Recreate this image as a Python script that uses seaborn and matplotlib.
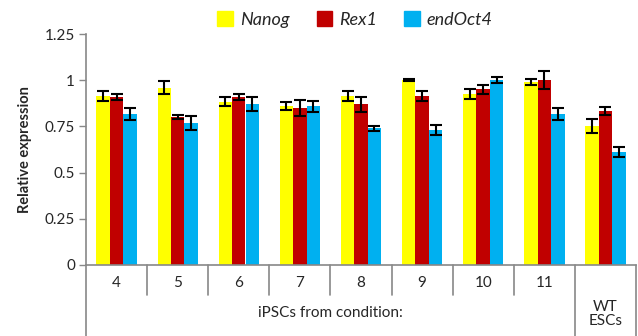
import numpy as np
import pandas as pd
import matplotlib
matplotlib.use("Agg")
import matplotlib.pyplot as plt
import matplotlib.transforms as mtransforms
import seaborn as sns

conditions = ["4", "5", "6", "7", "8", "9", "10", "11", "WT ESCs"]
genes = ["Nanog", "Rex1", "endOct4"]

nanog = [0.915, 0.96, 0.884, 0.862, 0.915, 1.0, 0.925, 0.99, 0.752]
rex1 = [0.91, 0.80, 0.91, 0.848, 0.87, 0.915, 0.95, 1.0, 0.833]
endoct4 = [0.815, 0.77, 0.87, 0.858, 0.74, 0.73, 1.0, 0.815, 0.613]

nanog_err = [0.028, 0.036, 0.025, 0.021, 0.028, 0.004, 0.028, 0.018, 0.039]
rex1_err = [0.015, 0.011, 0.015, 0.044, 0.041, 0.029, 0.022, 0.05, 0.02]
endoct4_err = [0.033, 0.037, 0.039, 0.032, 0.014, 0.026, 0.015, 0.032, 0.027]

colors = ["#FFFF00", "#C00000", "#00B0F0"]

df = pd.DataFrame({
    "cond": conditions * 3,
    "gene": [g for g in genes for _ in conditions],
    "val": nanog + rex1 + endoct4,
})
errs = [nanog_err, rex1_err, endoct4_err]

sns.set_style("white")
plt.rcParams["font.family"] = ["Lato", "DejaVu Sans"]

W, H = 638, 336
fig = plt.figure(figsize=(W / 100, H / 100), dpi=100)
ax = fig.add_axes([86 / W, (H - 265) / H, (636 - 86) / W, (265 - 34) / H])

sns.barplot(data=df, x="cond", y="val", hue="gene", palette=colors,
            width=0.66, saturation=1, ax=ax, legend=False,
            edgecolor="none", linewidth=0)

# error bars on top of each bar
for cont, e in zip(ax.containers, errs):
    xs = [b.get_x() + b.get_width() / 2 for b in cont]
    hs = [b.get_height() for b in cont]
    ax.errorbar(xs, hs, yerr=e, fmt="none", ecolor="black",
                elinewidth=1.5, capsize=4.5, capthick=1.5, zorder=5)

ax.set_ylim(0, 1.25)
ax.set_xlim(-0.5, 8.5)
ax.set_yticks([0, 0.25, 0.5, 0.75, 1, 1.25])
ax.set_yticklabels(["0", "0.25", "0.5", "0.75", "1", "1.25"], fontsize=11)
ax.tick_params(axis="y", length=5, width=1, color="#888888", direction="out", left=True, pad=3)
ax.set_ylabel("Relative expression", fontsize=10.5, fontweight="bold", labelpad=9)
ax.set_xlabel("")

for s in ["top", "right"]:
    ax.spines[s].set_visible(False)
for s in ["left", "bottom"]:
    ax.spines[s].set_color("#888888")
    ax.spines[s].set_linewidth(1.2)

# category labels of the multi-level axis
ax.set_xticks(range(8))
ax.set_xticklabels(conditions[:8], fontsize=11)
ax.tick_params(axis="x", length=0, pad=8)

tr = mtransforms.blended_transform_factory(ax.transData, ax.transAxes)
short = (265 - 295) / 231
full = (265 - 340) / 231
for i in range(9):
    x = i - 0.5
    ybot = full if i in (0, 8) else short
    ax.plot([x, x], [0, ybot], color="#888888", lw=1.2, transform=tr, clip_on=False)
ax.plot([8.5, 8.5], [0, full], color="#888888", lw=1.2, transform=tr, clip_on=False)

ax.text(3.5, (265 - 313) / 231, "iPSCs from condition:", transform=tr,
        ha="center", va="center", fontsize=11)
ax.text(8, (265 - 314) / 231, "WT\nESCs", transform=tr,
        ha="center", va="center", fontsize=11, linespacing=1.05)

handles = [plt.Rectangle((0, 0), 1, 1, color=c) for c in colors]
leg = fig.legend(handles, genes, loc="upper center", bbox_to_anchor=(355 / W, 1.015),
                 ncol=3, frameon=False, handlelength=0.85, handleheight=0.85,
                 handletextpad=0.4, columnspacing=1.5,
                 prop={"style": "italic", "size": 13})

fig.savefig("out.png", dpi=100)
